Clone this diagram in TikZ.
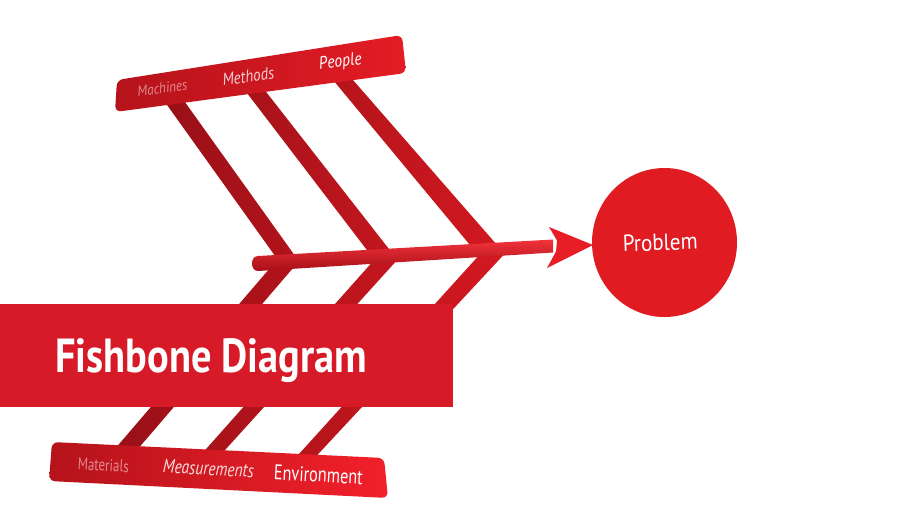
\documentclass[tikz,border=0pt]{standalone}
\usepackage{fontspec}
\setmainfont{PT Sans}
\usetikzlibrary{shapes.geometric}
\definecolor{banred}{HTML}{D71A28}
\definecolor{circred}{HTML}{E11B22}
\definecolor{ribA}{HTML}{B3131B}
\definecolor{ribB}{HTML}{C4161E}
\definecolor{ribC}{HTML}{D31820}
\definecolor{barleft}{HTML}{B5131B}
\definecolor{barright}{HTML}{E41C25}
\definecolor{barrightB}{HTML}{F2202A}
\definecolor{spinetop}{HTML}{F2333B}
\definecolor{spinemid}{HTML}{E81E26}
\definecolor{spinebot}{HTML}{A80F17}
\tikzset{
  ribshade/.style={left color=#1!85!black, right color=#1, draw=none},
  barlabel/.style={text=white, inner sep=0pt},
}
\begin{document}
\begin{tikzpicture}[x=1pt,y=-1pt]
\useasboundingbox (0,0) rectangle (907,515);
% upper ribs
\shade[ribshade=ribA] (160.6,96) -- (180.6,96) -- (299.4,262) -- (279.4,262) -- cycle;
\shade[ribshade=ribB] (240.9,85) -- (260.7,85) -- (396,258) -- (373,258) -- cycle;
\shade[ribshade=ribC] (326.4,72) -- (346,72) -- (504,253) -- (476.6,253) -- cycle;
% lower ribs
\shade[ribshade=ribA] (278.6,258) -- (301.6,258) -- (132.7,455) -- (109.7,455) -- cycle;
\shade[ribshade=ribB] (375.9,258) -- (399,258) -- (216,460) -- (196.3,460) -- cycle;
\shade[ribshade=ribC] (482,252) -- (506.3,252) -- (308,465) -- (289,465) -- cycle;
% top bar
\shade[left color=barleft, right color=barright, rounded corners=6pt]
  (117,80) -- (402,35) -- (406,73) -- (115,112) -- cycle;
% bottom bar
\shade[left color=barleft, right color=barrightB, rounded corners=6pt]
  (52,442) -- (384,458) -- (388,498) -- (49,481) -- cycle;
% spine
\shade[top color=spinetop, middle color=spinemid, bottom color=spinebot]
  (258,256) -- (553,239.5) -- (553,252.5) -- (258,271)
  .. controls (250,271) and (250,256) .. (258,256) -- cycle;
\fill[spinemid] (549,227) -- (593,245) -- (547,268) -- (556,251.5) -- (557,240.5) -- cycle;
% title banner
\node[fill=banred, minimum width=453pt, minimum height=103pt, inner sep=0, anchor=north west] (banner) at (0,304) {};
\node[barlabel, anchor=base west] (title) at (55,372) {\resizebox{312pt}{34pt}{\bfseries Fishbone Diagram}};
% problem circle
\node[ellipse, fill=circred, minimum width=145pt, minimum height=149pt, inner sep=0] (problem) at (664.5,242.5) {};
\node[barlabel, rotate=2, anchor=base] (problemtext) at (660.5,250.5) {\resizebox{75pt}{16.5pt}{Problem}};
% top labels
\node[barlabel, rotate=8, opacity=0.5, anchor=base] (machines) at (163,93) {\resizebox{50pt}{10.5pt}{\itshape Machines}};
\node[barlabel, rotate=8, opacity=0.8, anchor=base] (methods) at (249,82) {\resizebox{52pt}{12pt}{\itshape Methods}};
\node[barlabel, rotate=8, anchor=base] (people) at (341,67) {\resizebox{43pt}{12.5pt}{\itshape People}};
% bottom labels
\node[barlabel, rotate=-3, opacity=0.5, anchor=base] (materials) at (103,471) {\resizebox{51pt}{12pt}{Materials}};
\node[barlabel, rotate=-3, opacity=0.85, anchor=base] (measurements) at (208,475) {\resizebox{91pt}{13.5pt}{\itshape Measurements}};
\node[barlabel, rotate=-3, anchor=base] (environment) at (318,482) {\resizebox{89pt}{15pt}{Environment}};
\end{tikzpicture}
\end{document}
